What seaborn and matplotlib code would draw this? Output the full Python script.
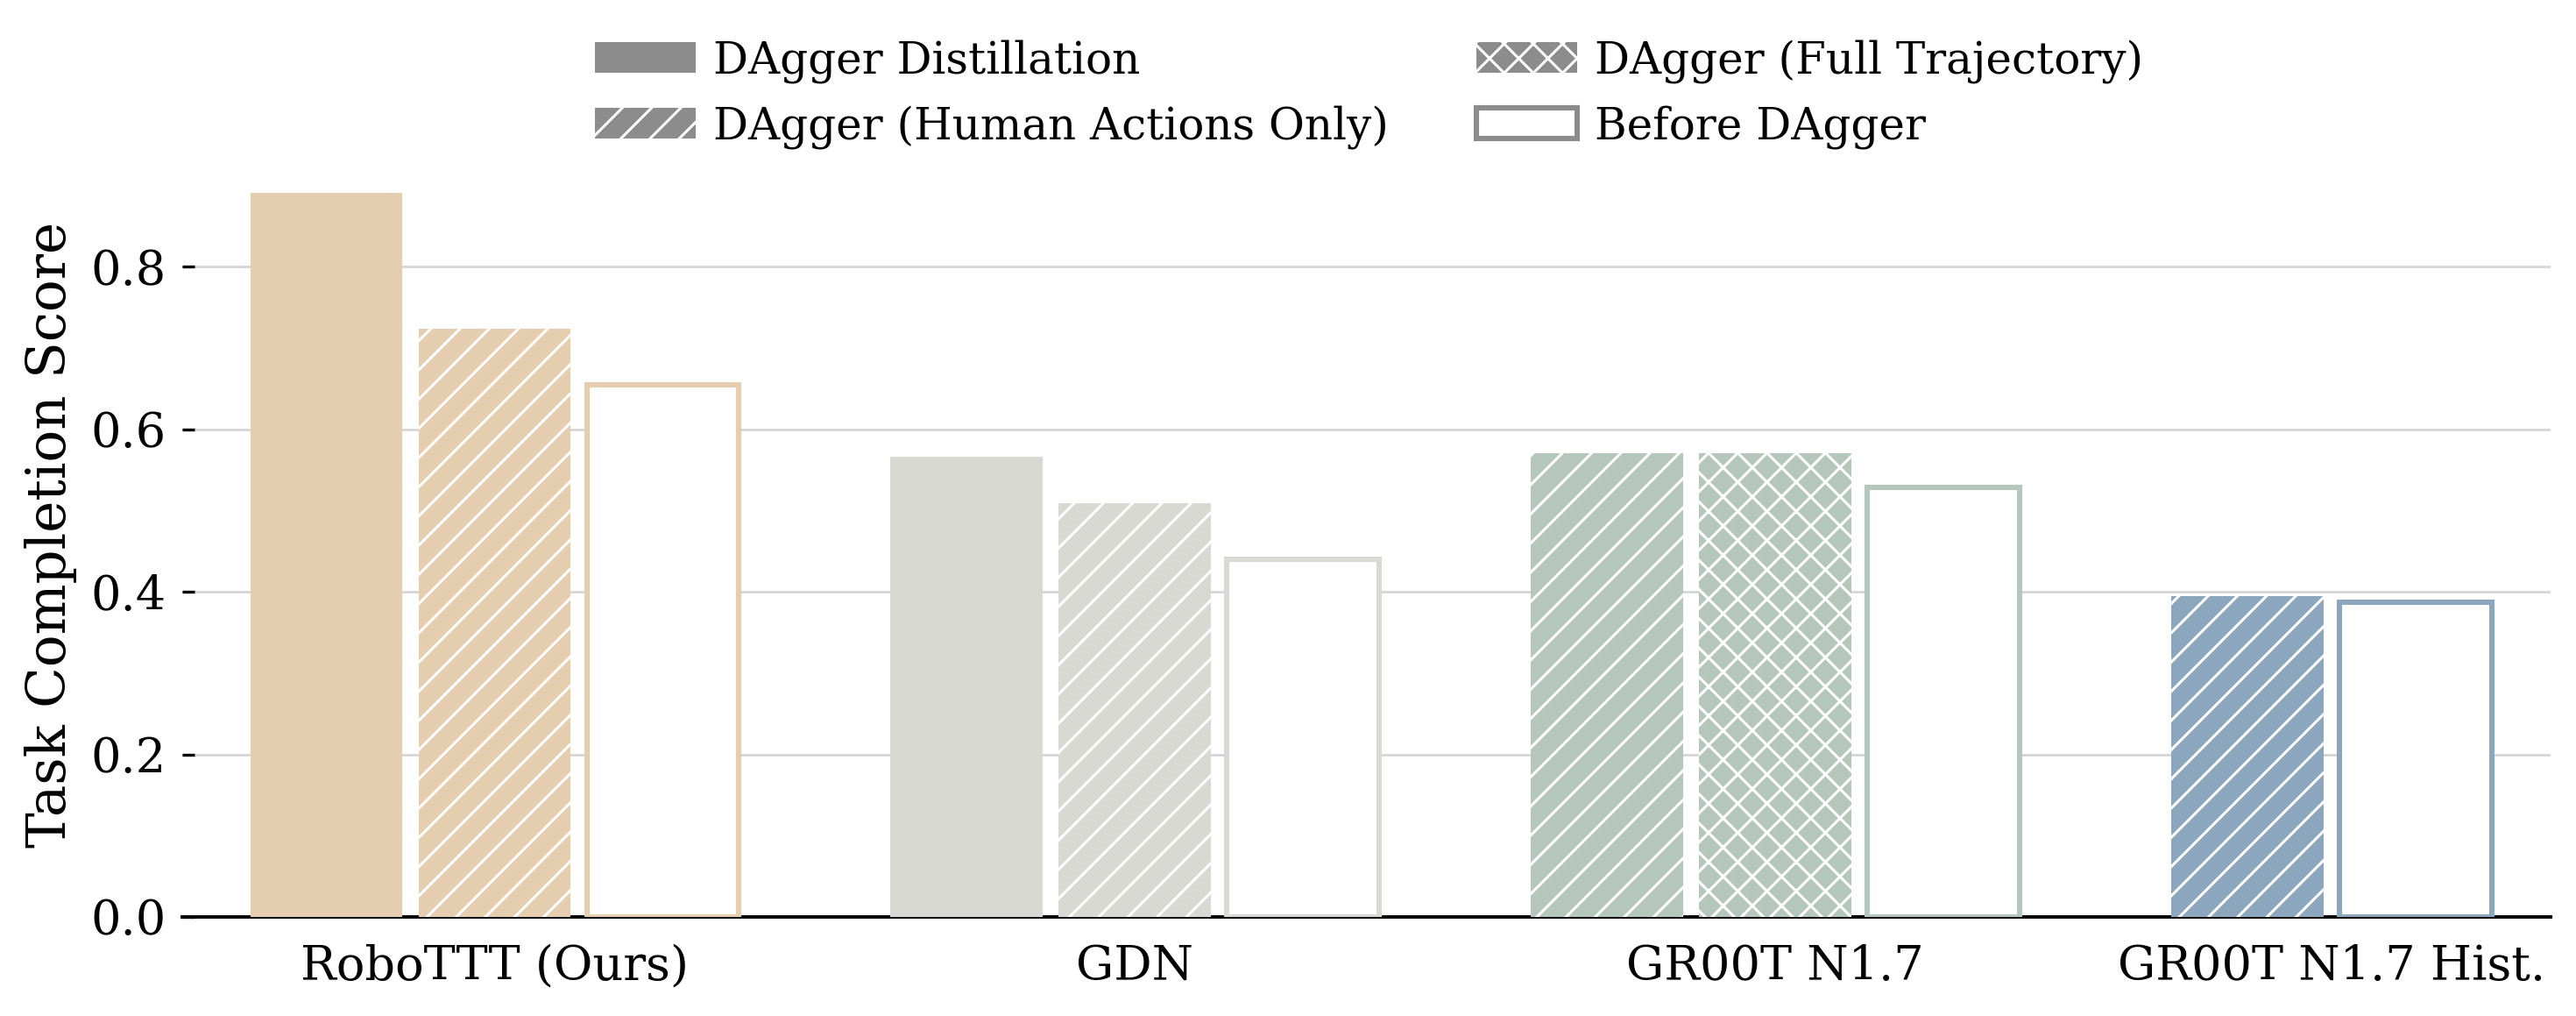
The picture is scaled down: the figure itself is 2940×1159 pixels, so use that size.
import matplotlib
matplotlib.use("Agg")
import matplotlib.pyplot as plt
from matplotlib.patches import Patch
import numpy as np
import pandas as pd
import seaborn as sns

# ---------------- data ----------------
models = ["RoboTTT (Ours)", "GDN", "GR00T N1.7", "GR00T N1.7 Hist."]
model_colors = ["#E5CEAF", "#D8D9D3", "#B5C6BC", "#8CA7BD"]

# per-bar records: model, method, score
bar_models = ["RoboTTT (Ours)", "RoboTTT (Ours)", "RoboTTT (Ours)",
              "GDN", "GDN", "GDN",
              "GR00T N1.7", "GR00T N1.7", "GR00T N1.7",
              "GR00T N1.7 Hist.", "GR00T N1.7 Hist."]
bar_methods = ["distill", "human", "before",
               "distill", "human", "before",
               "human", "full", "before",
               "human", "before"]
bar_scores = [0.891, 0.724, 0.655,
              0.566, 0.509, 0.440,
              0.571, 0.571, 0.528,
              0.395, 0.387]

method_labels = {
    "distill": "DAgger Distillation",
    "human": "DAgger (Human Actions Only)",
    "full": "DAgger (Full Trajectory)",
    "before": "Before DAgger",
}
method_hatch = {"distill": "", "human": "//", "full": "xx", "before": ""}
legend_order = ["distill", "human", "full", "before"]

# ---------------- layout ----------------
SLOT = 0.2627
BARW = 0.238

sns.set_theme(style="white")
plt.rcParams["font.family"] = ["DejaVu Serif"]
plt.rcParams["hatch.linewidth"] = 1.1
plt.rcParams["text.color"] = "black"
plt.rcParams["axes.labelcolor"] = "black"
FS_TICK = 19.5
FS_LEG = 18.0
FS_LAB = 22.0

df = pd.DataFrame({"model": bar_models, "method": bar_methods, "score": bar_scores})
slot_idx = df.groupby("model", sort=False).cumcount()
grp_idx = df["model"].map({m: i for i, m in enumerate(models)})
df["xpos"] = grp_idx + (slot_idx - 1) * SLOT

fig = plt.figure(figsize=(14.7, 5.795), dpi=200)
ax = fig.add_axes([0.0707, 0.0975, 0.9195, 0.752])

sns.barplot(data=df, x="xpos", y="score", native_scale=True,
            width=BARW / SLOT, ax=ax, errorbar=None, color="#cccccc", zorder=3)

rows = df.reset_index(drop=True)
for p in ax.patches:
    cx = p.get_x() + p.get_width() / 2
    i = int(np.argmin(np.abs(rows["xpos"].values - cx)))
    r = rows.iloc[i]
    col = model_colors[models.index(r["model"])]
    if r["method"] == "before":
        p.set_facecolor("white")
        p.set_edgecolor(col)
        p.set_linewidth(2.2)
        p.set_hatch("")
    else:
        p.set_facecolor(col)
        p.set_edgecolor("white")
        p.set_linewidth(0)
        p.set_hatch(method_hatch[r["method"]])

# ticks at the centre of each group's bars
tick_pos = df.groupby("model", sort=False)["xpos"].mean().reindex(models).values
ax.set_xticks(tick_pos)
ax.set_xticklabels(models, fontsize=FS_TICK)
ax.set_xlim(-0.488, 3.211)
ax.set_ylim(0, 0.94)
ax.set_yticks([0.0, 0.2, 0.4, 0.6, 0.8])
ax.set_yticklabels(["0.0", "0.2", "0.4", "0.6", "0.8"], fontsize=FS_TICK)
ax.set_xlabel("")
ax.set_ylabel("Task Completion Score", fontsize=FS_LAB, labelpad=5.5, color="black")

ax.yaxis.grid(True, color="#d6d6d6", linewidth=1.0, zorder=0)
ax.xaxis.grid(False)
ax.set_axisbelow(True)
for s in ["left", "top", "right"]:
    ax.spines[s].set_visible(False)
ax.spines["bottom"].set_color("black")
ax.spines["bottom"].set_linewidth(1.4)
ax.tick_params(axis="x", direction="out", length=5, width=1.2, colors="black", pad=6)
ax.tick_params(axis="y", direction="in", length=5, width=1.2, colors="black", pad=6.5, left=True)

handles = []
for m in legend_order:
    if m == "before":
        handles.append(Patch(facecolor="white", edgecolor="#8c8c8c", linewidth=2.2,
                             label=method_labels[m]))
    else:
        handles.append(Patch(facecolor="#8c8c8c", edgecolor="white", linewidth=0,
                             hatch=method_hatch[m], label=method_labels[m]))
leg = fig.legend(handles=handles, loc="upper center", bbox_to_anchor=(0.5316, 1.0),
                 ncol=2, frameon=False, fontsize=FS_LEG, columnspacing=2.0, labelspacing=0.5,
                 handlelength=2.3, handletextpad=0.4)
for t in leg.get_texts():
    t.set_color("black")

fig.savefig("out.png", dpi=200)
